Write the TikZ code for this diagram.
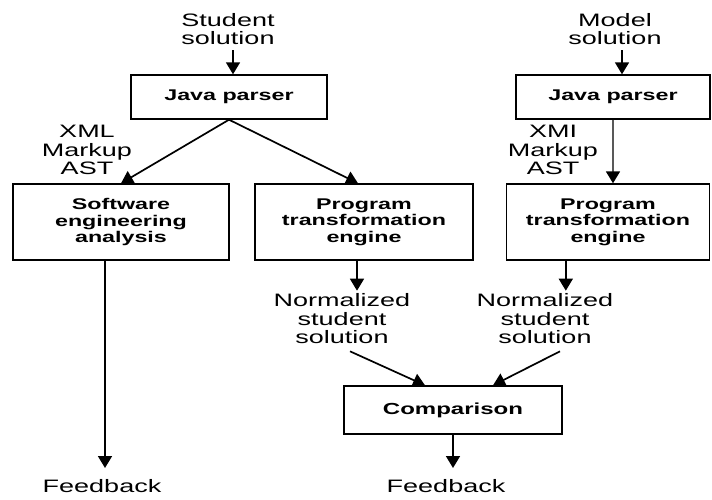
\documentclass[tikz,border=0pt]{standalone}
\usepackage{fontspec}
\setmainfont{Liberation Sans}[FakeStretch=1.5]
\usetikzlibrary{arrows.meta}

\begin{document}
\begin{tikzpicture}[x=1pt,y=-1pt,
  lbl/.style={inner sep=3pt,align=center,font=\fontsize{18}{18.5}\selectfont},
  procbox/.style={draw,line width=1.4pt,align=center,inner sep=0pt,font=\bfseries\fontsize{15.5}{16.5}\selectfont},
  arr/.style={line width=1.7pt,-{Triangle[width=14pt,length=12pt]}}]
\useasboundingbox (0,0) rectangle (712,499);

%Inputs and parsers
\node[lbl] (stud) at (228,29) {Student\\solution};
\node[lbl] (model) at (615,29) {Model\\solution};
\node[procbox,minimum width=196pt,minimum height=44pt] (parserA) at (229,97) {Java parser};
\node[procbox,minimum width=194pt,minimum height=44pt] (parserB) at (613,97) {Java parser};
\node[lbl] (xmlA) at (87,150) {XML\\Markup\\AST};
\node[lbl] (xmlB) at (553,150) {XMI\\Markup\\AST};

%Analysis and transformation boxes
\node[procbox,minimum width=216pt,minimum height=76pt] (seBox) at (121,222) {Software\\engineering\\analysis};
\node[procbox,minimum width=218pt,minimum height=76pt] (ptA) at (364,222) {Program\\transformation\\engine};
\node[procbox,minimum width=203pt,minimum height=76pt] (ptB) at (608,222) {Program\\transformation\\engine};

%Normalized results and comparison
\node[lbl] (normA) at (342,319) {Normalized\\student\\solution};
\node[lbl] (normB) at (545,319) {Normalized\\student\\solution};
\node[procbox,minimum width=218pt,minimum height=48pt,font=\bfseries\fontsize{16}{17}\selectfont] (comp) at (453,410) {Comparison};
\node[lbl,anchor=north] (fbA) at (102,476) {Feedback};
\node[lbl,anchor=north] (fbB) at (446,476) {Feedback};

%Arrows
\draw[arr] (stud.south) ++(5,2) -- (parserA.north -| 233,0);
\draw[arr] (model.south) ++(7,2) -- (parserB.north -| 622,0);
\draw[arr] (parserA.south) -- (seBox.north);
\draw[arr] (parserA.south) -- ([xshift=-6pt]ptA.north);
\draw[line width=1.8pt,gray!70!black,-{Triangle[width=14pt,length=12pt,black]}] (parserB.south) -- (parserB.south |- ptB.north);
\draw[arr] ([xshift=-7pt]ptA.south) -- ([xshift=-7pt]ptA.south |- normA.north);
\draw[arr] ([xshift=60pt]ptB.south west) -- ([xshift=60pt]ptB.south west |- normB.north);
\draw[arr] ([xshift=8pt,yshift=-4pt]normA.south) -- ([xshift=-28pt]comp.north);
\draw[arr] ([xshift=15pt,yshift=-4pt]normB.south) -- ([xshift=40pt]comp.north);
\draw[arr,shorten >=8pt] ([xshift=-16pt]seBox.south) -- ([xshift=-16pt]seBox.south |- fbA.north);
\draw[arr,shorten >=8pt] (comp.south) -- (comp.south |- fbB.north);
\end{tikzpicture}
\end{document}
